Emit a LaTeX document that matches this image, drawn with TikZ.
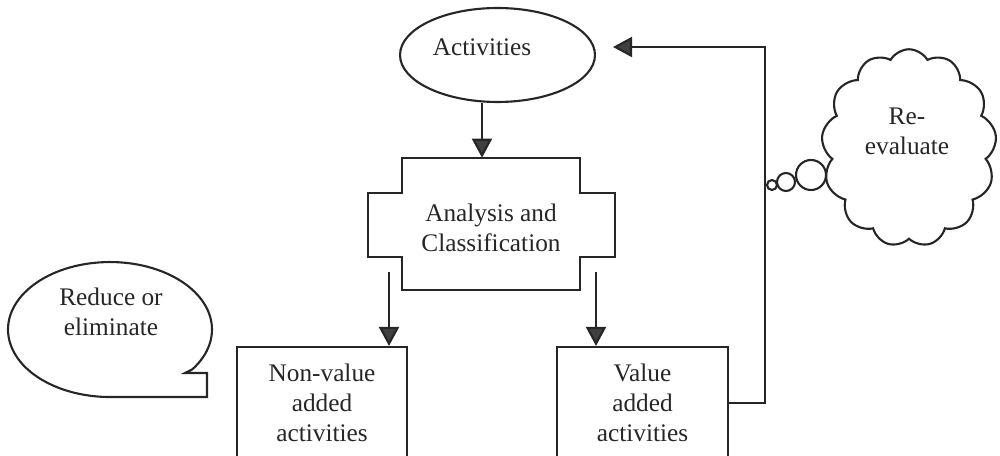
\documentclass[tikz,border=0pt]{standalone}
\usepackage{fontspec}
\setmainfont{Liberation Serif}
\usetikzlibrary{shapes.geometric,shapes.symbols,arrows.meta}
\begin{document}
\begin{tikzpicture}[x=0.02cm,y=0.02cm,
  ink/.style={draw=black!85, line width=1.2pt},
  lbl/.style={align=center, font=\fontsize{14.4}{17}\selectfont, text=black!85, inner sep=0pt},
  flow/.style={ink, -{Triangle[length=0.38cm,width=0.4cm,fill=black!75]}},
  stagebox/.style={ink, rectangle, align=center, font=\fontsize{14.4}{17}\selectfont,
    text=black!85, minimum width=3.42cm, minimum height=2.24cm, inner sep=0pt},
  bead/.style={ink, circle, fill=white, inner sep=0pt}
]
\useasboundingbox (0,0) rectangle (1000,456);
\clip (0,0) rectangle (1000,456);

% top: the activities ellipse
\node[ink, ellipse, minimum width=3.9cm, minimum height=1.88cm, inner sep=0pt] (act) at (497.5,401) {};
\node[lbl] (actlbl) at (482,409) {Activities};

% analysis and classification (cross-shaped outline)
\node[minimum width=3.56cm, minimum height=2.64cm, inner sep=0pt] (ana) at (491,232) {};
\draw[ink] (402,298) -- (580,298) -- (580,263) -- (615,263) -- (615,199) -- (580,199)
  -- (580,166) -- (402,166) -- (402,199) -- (368,199) -- (368,263) -- (402,263) -- cycle;
\node[lbl] (analbl) at ([yshift=-0.08cm]ana.center) {Analysis and\\Classification};

% the two outcome boxes
\node[stagebox, minimum width=3.4cm] (nv) at (322,53) {Non-value\\added\\activities};
\node[stagebox] (val) at (642.5,53) {Value\\added\\activities};

% flow arrows
\coordinate (l0) at (389,184);
\coordinate (r0) at (596,184);
\draw[flow] (act.south -| actlbl) -- (ana.north -| actlbl);
\draw[flow] (l0) -- (l0 |- nv.north);
\draw[flow] (r0) -- (r0 |- val.north);

% feedback loop back to the activities
\coordinate (fbtop) at (765,409);
\coordinate (fbtip) at (613,409);
\draw[flow] (val.east) -| (fbtop) -- (fbtip);

% speech bubble with its rectangular tail
\draw[ink] (192.5,86.8) arc[start angle=-36, end angle=270, x radius=2.04cm, y radius=1.35cm]
  -- (207,59) -- (207,83) -- (185,83) -- cycle;
\node[lbl] (rd) at (111,144) {Reduce or\\eliminate};

% thought cloud with its trail of beads
\node[ink, cloud, cloud puffs=13, cloud puff arc=120, aspect=0.95,
  minimum width=3.5cm, minimum height=3.95cm, inner sep=0pt, fill=white] (cl) at (909,308) {};
\node[lbl] (cllbl) at (907,325) {Re-\\evaluate};
\node[bead, minimum size=0.2cm] (b1) at (772,271) {};
\node[bead, minimum size=0.36cm] (b2) at (786,274) {};
\node[bead, minimum size=0.6cm] (b3) at (811,281) {};
\end{tikzpicture}
\end{document}
